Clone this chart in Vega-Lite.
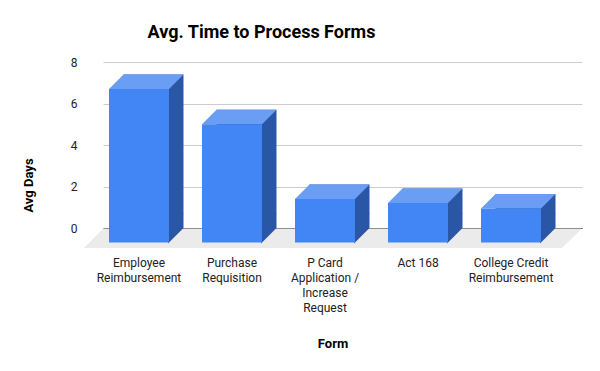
{
  "$schema": "https://vega.github.io/schema/vega-lite/v6.json",
  "width": 479,
  "height": 166,
  "autosize": {"type": "none"},
  "padding": {"left": 103, "top": 62, "right": 18, "bottom": 143},
  "background": "white",
  "config": {"font": "Roboto", "view": {"stroke": null}},
  "title": {"text": "Avg. Time to Process Forms", "fontSize": 18, "fontWeight": "bold", "color": "#000000", "anchor": "middle", "dx": -81, "baseline": "alphabetic", "offset": 0},
  "data": {"values": [
    {"form": "Employee Reimbursement", "days": 6.7},
    {"form": "Purchase Requisition", "days": 5.0},
    {"form": "P Card Application / Increase Request", "days": 1.4},
    {"form": "Act 168", "days": 1.2},
    {"form": "College Credit Reimbursement", "days": 0.94}
  ]},
  "layer": [
    {
      "data": {"values": [{"base": 0}]},
      "mark": {"type": "point", "shape": "M -23.92 0.05 L 23.95 0.05 L 21.95 2 L -25.85 2 Z", "size": 400, "filled": true, "opacity": 1, "strokeWidth": 0, "color": "#ebebeb"},
      "encoding": {
        "y": {"field": "base", "type": "quantitative", "title": "Avg Days", "scale": {"domain": [0, 8], "nice": false},
          "axis": {"values": [0, 2, 4, 6, 8], "domain": false, "ticks": false, "gridColor": "#cccccc", "labelPadding": 26, "labelFontSize": 12, "labelColor": "#222222", "titleFontSize": 13, "titleFontWeight": "bold", "titleColor": "#000000", "titleX": -75, "titleY": 123, "titleBaseline": "middle"}}
      }
    },
    {
      "mark": {"type": "bar", "color": "#2a56a6", "xOffset": 14.5, "yOffset": -14.5},
      "encoding": {
        "x": {"field": "form", "type": "nominal", "sort": null, "title": "Form",
          "scale": {"paddingInner": 0.355, "paddingOuter": 0.2527, "align": 0.1277},
          "axis": {"labelAngle": 0, "labelFontSize": 12, "labelColor": "#222222", "labelLineHeight": 15, "labelBaseline": "top", "labelPadding": 29, "labelLimit": 0, "labelOverlap": false, "ticks": false, "domainColor": "#333333", "titleFontSize": 13, "titleFontWeight": "bold", "titleColor": "#000000", "titleX": 229.5, "titleY": 115, "titleBaseline": "middle",
            "labelExpr": "datum.value == 'Employee Reimbursement' ? ['Employee', 'Reimbursement'] : datum.value == 'Purchase Requisition' ? ['Purchase', 'Requisition'] : datum.value == 'P Card Application / Increase Request' ? ['P Card', 'Application /', 'Increase', 'Request'] : datum.value == 'College Credit Reimbursement' ? ['College Credit', 'Reimbursement'] : datum.label"}},
        "y": {"field": "days", "type": "quantitative", "title": "Avg Days"}
      }
    },
    {
      "mark": {"type": "point", "shape": "M 2.9 -1.5 L 4.45 -1.5 L 4.45 0 L 2.9 1.55 Z", "size": 400, "filled": true, "opacity": 1, "strokeWidth": 0, "color": "#2a56a6"},
      "encoding": {
        "x": {"field": "form", "type": "nominal", "sort": null, "title": "Form"},
        "y": {"datum": 0, "type": "quantitative", "title": "Avg Days"}
      }
    },
    {
      "mark": {"type": "point", "shape": "M -3 0 L 3 0 L 4.45 -1.45 L -1.55 -1.45 Z", "size": 400, "filled": true, "opacity": 1, "strokeWidth": 0, "color": "#6a9ef5"},
      "encoding": {
        "x": {"field": "form", "type": "nominal", "sort": null, "title": "Form"},
        "y": {"field": "days", "type": "quantitative", "title": "Avg Days"}
      }
    },
    {
      "mark": {"type": "bar", "color": "#4285f4"},
      "encoding": {
        "x": {"field": "form", "type": "nominal", "sort": null, "title": "Form"},
        "y": {"field": "days", "type": "quantitative", "title": "Avg Days"},
        "y2": {"datum": -0.7}
      }
    }
  ]
}
